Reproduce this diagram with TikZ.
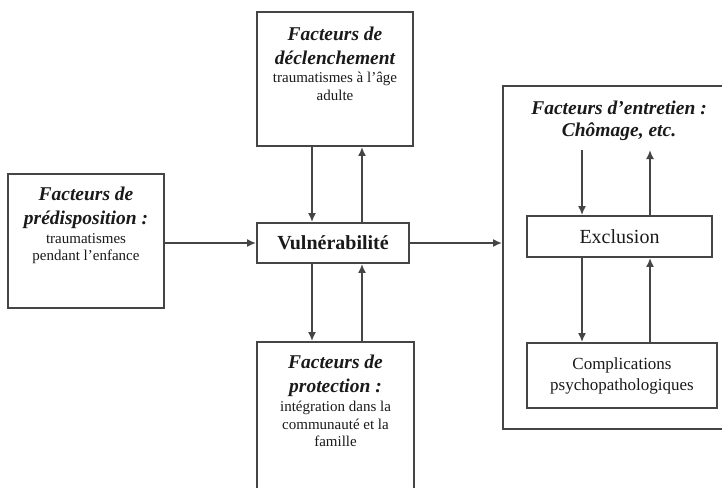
\documentclass[tikz,border=0pt]{standalone}
\usepackage{fontspec}
\setmainfont{Liberation Serif}
\usetikzlibrary{arrows.meta}
\definecolor{ln}{HTML}{454545}
\definecolor{tx}{HTML}{1A1A1A}
\tikzset{
  box/.style={draw=ln, line width=1.9pt, rectangle, inner sep=0pt, fill=white},
  ttl/.style={anchor=north, inner sep=0pt, align=center, text=tx, font=\fontsize{19.5}{24}\selectfont\bfseries\itshape},
  bodytxt/.style={anchor=north, inner sep=0pt, align=center, text=tx, font=\fontsize{15}{17.5}\selectfont},
  arr/.style={draw=ln, line width=1.7pt, -{Latex[length=9pt,width=8pt]}},
}
\begin{document}
\begin{tikzpicture}[x=1pt,y=-1pt]
\useasboundingbox (0,0) rectangle (722,487);
\fill[white] (0,0) rectangle (722,487);
\clip (0,0) rectangle (722,487);

% boxes
\node[box, minimum width=156pt, minimum height=134pt] (lb) at (86,241) {};
\node[box, minimum width=156pt, minimum height=134pt] (tb) at (335,79) {};
\node[box, minimum width=157pt, minimum height=170pt] (bb) at (335.5,427) {};
\node[box, minimum width=237pt, minimum height=343pt] (rb) at (621.5,257.5) {};
\node[box, minimum width=152pt, minimum height=40pt, text=tx, font=\fontsize{20}{24}\selectfont\bfseries] (vul) at (333,243) {Vulnérabilité};
\node[box, minimum width=185pt, minimum height=41pt, text=tx, font=\fontsize{20}{24}\selectfont] (exc) at (619.5,236.5) {Exclusion};
\node[box, minimum width=190pt, minimum height=65pt, text=tx, align=center, font=\fontsize{17}{21}\selectfont] (cmp) at (622,375.5) {Complications\\psychopathologiques};

% texts
\node[ttl] (lbt) at (86,187) {Facteurs de\\prédisposition :};
\node[bodytxt] (lbb) at (86,233) {traumatismes\\pendant l'enfance};
\node[ttl] (tbt) at (335,27) {Facteurs de\\déclenchement};
\node[bodytxt] (tbb) at (335,72) {traumatismes à l'âge\\adulte};
\node[ttl] (bbt) at (335.5,355) {Facteurs de\\protection :};
\node[bodytxt] (bbb) at (335.5,401) {intégration dans la\\communauté et la\\famille};
\node[ttl, font=\fontsize{19.5}{22}\selectfont\bfseries\itshape] (rbt) at (619,101) {Facteurs d'entretien :\\Chômage, etc.};

% helper coordinates
\coordinate (xa) at (312,0);
\coordinate (xb) at (362,0);
\coordinate (xc) at (582,0);
\coordinate (xd) at (650,0);
\coordinate (rt1) at (582,150);
\coordinate (rt2) at (650,150);

% connectors
\draw[arr] (lb.east |- vul.west) -- (vul.west);
\draw[arr] (vul.east) -- (rb.west |- vul.east);
\draw[arr] (tb.south -| xa) -- (vul.north -| xa);
\draw[arr] (vul.north -| xb) -- (tb.south -| xb);
\draw[arr] (vul.south -| xa) -- (bb.north -| xa);
\draw[arr] (bb.north -| xb) -- (vul.south -| xb);
\draw[arr] (rt1) -- (exc.north -| rt1);
\draw[arr] (exc.north -| rt2) -- (rt2);
\draw[arr] (exc.south -| xc) -- (cmp.north -| xc);
\draw[arr] (cmp.north -| xd) -- (exc.south -| xd);
\end{tikzpicture}
\end{document}
